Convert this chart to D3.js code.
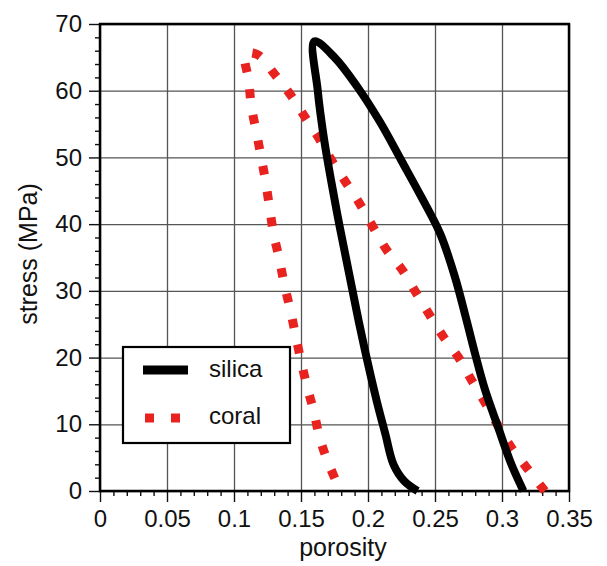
<!DOCTYPE html>
<html lang="en">
<head>
    <meta charset="UTF-8">
    <title>Stress vs porosity</title>
    <script src="https://d3js.org/d3.v7.min.js"></script>
    <style>
        body { margin: 0; background: white; font-family: "Liberation Sans", Arial, sans-serif; }
        .axis text { font-family: "Liberation Sans", Arial, sans-serif; font-size: 24px; fill: #111; }
        .axis path { display: none; }
        .axis line { stroke: #111; stroke-width: 1.4; }
        .grid line { stroke: #555; stroke-width: 1.3; }
        .grid path { display: none; }
    </style>
</head>
<body>
    <div id="chart"></div>
    <script>
        // silica curve: right branch up to the peak, then down the left branch
        const silicaPorosity = [0.316, 0.307, 0.297, 0.287, 0.280, 0.273, 0.265, 0.254, 0.240, 0.225, 0.209, 0.192, 0.175, 0.160,
            0.1625, 0.167, 0.1725, 0.179, 0.186, 0.193, 0.1995, 0.2065, 0.213, 0.219, 0.227, 0.237];
        const silicaStress = [0, 4, 9.6, 15.4, 20.5, 26, 32, 38.5, 44, 49.5, 55.3, 60.6, 65, 67.4,
            60, 53, 46.5, 39.5, 32.5, 25.5, 19.5, 13.5, 8.5, 4, 1.5, 0];

        const coralPorosity = [0.332, 0.3184, 0.3067, 0.2967, 0.2872, 0.2773, 0.2676, 0.256, 0.2456, 0.2356, 0.2257, 0.2137, 0.204,
            0.194, 0.184, 0.1733, 0.1633, 0.1528, 0.1421, 0.1302, 0.1177, 0.1085,
            0.111, 0.113, 0.1167, 0.1202, 0.1234, 0.1266, 0.1296, 0.1339, 0.1376, 0.1421, 0.1459, 0.1501, 0.1546, 0.1596, 0.1638, 0.170, 0.1795];
        const coralStress = [0, 3.5, 6.6, 9.9, 13.3, 16.6, 20.0, 23.2, 26.5, 29.8, 33.1, 36.2, 39.5,
            43.0, 46.1, 49.4, 52.9, 56.1, 59.4, 62.5, 65.4, 65.5,
            61.5, 57.6, 53.8, 50.1, 46.6, 42.4, 38.5, 34.7, 30.9, 27.1, 23.4, 19.4, 15.6, 11.9, 8.1, 4.4, 0];

        const xTicks = [0, 0.05, 0.1, 0.15, 0.2, 0.25, 0.3, 0.35];
        const xTickLabels = ["0", "0.05", "0.1", "0.15", "0.2", "0.25", "0.3", "0.35"];
        const yTicks = [0, 10, 20, 30, 40, 50, 60, 70];
        const seriesNames = ["silica", "coral"];

        const width = 607, height = 566;
        const margin = { top: 24, right: 38, bottom: 75, left: 100 };
        const plotW = width - margin.left - margin.right;
        const plotH = height - margin.top - margin.bottom;

        const svg = d3.select("#chart")
            .append("svg")
            .attr("width", width)
            .attr("height", height);

        const g = svg.append("g")
            .attr("transform", `translate(${margin.left},${margin.top})`);

        const x = d3.scaleLinear().domain([0, 0.35]).range([0, plotW]);
        const y = d3.scaleLinear().domain([0, 70]).range([plotH, 0]);

        // grid
        g.append("g").attr("class", "grid")
            .call(d3.axisBottom(x).tickValues(xTicks).tickSize(plotH).tickFormat(""));
        g.append("g").attr("class", "grid")
            .call(d3.axisLeft(y).tickValues(yTicks).tickSize(-plotW).tickFormat(""));

        // minor ticks
        const xMinor = d3.range(0, 0.3501, 0.01).filter(v => Math.abs(v * 20 - Math.round(v * 20)) > 1e-6);
        const yMinor = d3.range(0, 70.01, 2).filter(v => v % 10 !== 0);
        g.append("g").attr("class", "axis")
            .attr("transform", `translate(0,${plotH})`)
            .call(d3.axisBottom(x).tickValues(xMinor).tickSize(5).tickFormat(""));
        g.append("g").attr("class", "axis")
            .call(d3.axisLeft(y).tickValues(yMinor).tickSize(5).tickFormat(""));

        // major ticks with labels
        g.append("g").attr("class", "axis")
            .attr("transform", `translate(0,${plotH})`)
            .call(d3.axisBottom(x).tickValues(xTicks).tickSize(11).tickPadding(8)
                .tickFormat((d, i) => xTickLabels[i]));
        g.append("g").attr("class", "axis")
            .call(d3.axisLeft(y).tickValues(yTicks).tickSize(11).tickPadding(7));

        // frame
        g.append("rect")
            .attr("width", plotW)
            .attr("height", plotH)
            .attr("fill", "none")
            .attr("stroke", "#000")
            .attr("stroke-width", 2.5);

        const line = d3.line()
            .x(d => x(d[0]))
            .y(d => y(d[1]))
            .curve(d3.curveCatmullRom.alpha(0.5));

        const silica = silicaPorosity.map((p, i) => [p, silicaStress[i]]);
        const coral = coralPorosity.map((p, i) => [p, coralStress[i]]);

        g.append("path")
            .datum(coral)
            .attr("d", line)
            .attr("fill", "none")
            .attr("stroke", "#e8231f")
            .attr("stroke-width", 9)
            .attr("stroke-dasharray", "9 17");

        g.append("path")
            .datum(silica)
            .attr("d", line)
            .attr("fill", "none")
            .attr("stroke", "#000")
            .attr("stroke-width", 8)
            .attr("stroke-linejoin", "round");

        // axis titles
        svg.append("text")
            .attr("x", 343)
            .attr("y", 556)
            .attr("text-anchor", "middle")
            .attr("font-size", "25px")
            .attr("fill", "#111")
            .text("porosity");

        svg.append("text")
            .attr("transform", "translate(37,254) rotate(-90)")
            .attr("text-anchor", "middle")
            .attr("font-size", "25px")
            .attr("fill", "#111")
            .text("stress (MPa)");

        // legend
        const legend = svg.append("g").attr("transform", "translate(123,347)");
        legend.append("rect")
            .attr("width", 167)
            .attr("height", 96)
            .attr("fill", "white")
            .attr("stroke", "#000")
            .attr("stroke-width", 2.2);
        legend.append("line")
            .attr("x1", 20).attr("x2", 65)
            .attr("y1", 23).attr("y2", 23)
            .attr("stroke", "#000")
            .attr("stroke-width", 9);
        legend.append("line")
            .attr("x1", 22).attr("x2", 65)
            .attr("y1", 71).attr("y2", 71)
            .attr("stroke", "#e8231f")
            .attr("stroke-width", 9)
            .attr("stroke-dasharray", "9 17");
        legend.selectAll(".legend-label")
            .data(seriesNames)
            .enter()
            .append("text")
            .attr("class", "legend-label")
            .attr("x", 86)
            .attr("y", (d, i) => 30 + i * 47)
            .attr("font-size", "24px")
            .attr("fill", "#111")
            .text(d => d);
    </script>
</body>
</html>
